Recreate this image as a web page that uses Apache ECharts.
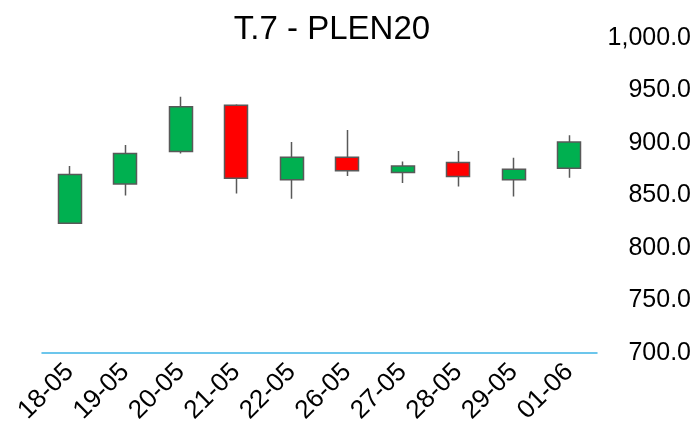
<!DOCTYPE html>
<html>
<head>
<meta charset="utf-8">
<style>
    html, body {margin: 0; padding: 0; background: #fff;}
    #chart {width: 696px; height: 433px;}
</style>
<script src="https://cdn.jsdelivr.net/npm/echarts@6/dist/echarts.min.js"></script>
</head>
<body>
<div id="chart"></div>
<script>
    // dni notowań
    var days = ['18-05', '19-05', '20-05', '21-05', '22-05', '26-05', '27-05', '28-05', '29-05', '01-06'];
    // [open, close, low, high]
    var openVals  = [823.5, 861, 892, 936, 865, 886.5, 872, 881.5, 865, 876];
    var closeVals = [870, 890, 934.5, 866.5, 886.5, 873.5, 878, 868, 875, 901];
    var lowVals   = [823.5, 850, 890, 852, 847, 868.5, 862, 858.5, 849, 867];
    var highVals  = [878, 898, 944, 937, 901, 912.5, 882.5, 892.5, 886, 907.5];
    var yTicks = [700, 750, 800, 850, 900, 950, 1000];

    var kData = [];
    for (var i = 0; i < days.length; i++) {
        kData.push([openVals[i], closeVals[i], lowVals[i], highVals[i]]);
    }

    var chart = echarts.init(document.getElementById('chart'));
    var option = {
        animation: false,
        title: {
            text: 'T.7 - PLEN20',
            left: 327,
            textAlign: 'center',
            top: 8,
            textStyle: {fontFamily: 'Liberation Sans', fontSize: 33, fontWeight: 'normal', color: '#000'}
        },
        grid: {left: 42, right: 99, top: 38, bottom: 80},
        xAxis: {
            type: 'category',
            data: days,
            axisLine: {lineStyle: {color: '#3cb4e6', width: 1.5}},
            axisTick: {show: false},
            axisLabel: {
                rotate: 45,
                margin: 15,
                fontFamily: 'Liberation Sans',
                fontSize: 26,
                color: '#000'
            }
        },
        yAxis: {
            type: 'value',
            position: 'right',
            min: yTicks[0],
            max: yTicks[yTicks.length - 1],
            interval: 50,
            splitLine: {show: false},
            axisLine: {show: false},
            axisTick: {show: false},
            axisLabel: {
                align: 'right',
                margin: 94,
                fontFamily: 'Liberation Sans',
                fontSize: 25,
                color: '#000',
                formatter: function (v) {
                    return v.toLocaleString('en-US', {minimumFractionDigits: 1, maximumFractionDigits: 1});
                }
            }
        },
        series: [{
            type: 'candlestick',
            data: kData,
            barWidth: '42%',
            itemStyle: {
                color: '#00b050',
                color0: '#ff0000',
                borderColor: '#595959',
                borderColor0: '#595959',
                borderWidth: 1.5
            }
        }]
    };
    chart.setOption(option);
</script>
</body>
</html>
